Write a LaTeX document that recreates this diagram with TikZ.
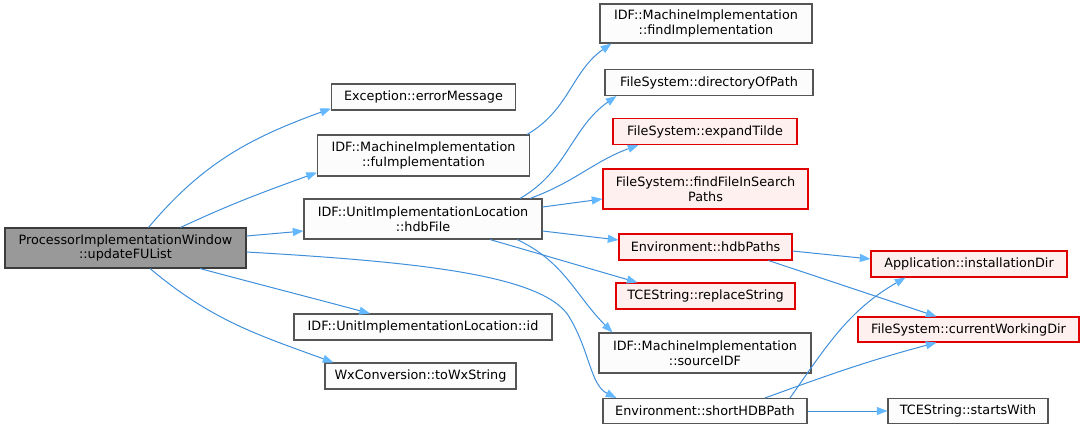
\documentclass[tikz,border=0pt]{standalone}
\usepackage{fontspec}
\setmainfont{DejaVu Sans}
\usetikzlibrary{arrows.meta,calc}
\definecolor{dxgrey}{HTML}{555555}
\definecolor{dxroot}{HTML}{999999}
\definecolor{dxpink}{HTML}{FFF0F0}
\definecolor{dxred}{HTML}{E00000}
\definecolor{dxplain}{HTML}{FBFCFB}
\definecolor{dxedge}{HTML}{3F8FDB}
\definecolor{dxtip}{HTML}{63B8FF}
\tikzset{
  wh/.style 2 args={minimum width=#1*0.75pt,minimum height=#2*0.75pt},
  fn/.style={draw=dxgrey,fill=dxplain,line width=0.8pt,inner sep=0pt,align=center,font=\fontsize{9.6}{11}\selectfont},
  fnext/.style={fn,draw=dxred,fill=dxpink},
  fnroot/.style={fn,draw=dxgrey!70!black,fill=dxroot},
  call/.style={-{Triangle[length=8pt,width=6pt,fill=dxtip,color=dxtip]},draw=dxedge,line width=0.75pt},
}
\begin{document}
\begin{tikzpicture}[x=0.75pt,y=-0.75pt]
  \useasboundingbox (0,0) rectangle (1084,429);
  % caller
  \node[fnroot,wh={241}{40}] (main) at (125.5,248) {ProcessorImplementationWindow\\::updateFUList};
  % first level
  \node[fn,wh={184}{26}] (err) at (423.5,97) {Exception::errorMessage};
  \node[fn,wh={212}{41}] (fuimpl) at (423.5,155.5) {IDF::MachineImplementation\\::fuImplementation};
  \node[fn,wh={238}{40}] (hdbfile) at (423,219) {IDF::UnitImplementationLocation\\::hdbFile};
  \node[fn,wh={258}{26}] (uid) at (423,327) {IDF::UnitImplementationLocation::id};
  \node[fn,wh={191}{26}] (towx) at (420.5,376) {WxConversion::toWxString};
  % second level
  \node[fn,wh={212}{39}] (findimpl) at (706,23.5) {IDF::MachineImplementation\\::findImplementation};
  \node[fn,wh={208}{26}] (dirpath) at (709,82.5) {FileSystem::directoryOfPath};
  \node[fnext,wh={184}{26}] (tilde) at (705,131.5) {FileSystem::expandTilde};
  \node[fnext,wh={205}{40}] (findfile) at (705.5,189) {FileSystem::findFileInSearch\\Paths};
  \node[fnext,wh={173}{26}] (hdbpaths) at (705.5,247) {Environment::hdbPaths};
  \node[fnext,wh={179}{26}] (replace) at (705.5,296) {TCEString::replaceString};
  \node[fn,wh={212}{40}] (srcidf) at (705,353) {IDF::MachineImplementation\\::sourceIDF};
  \node[fn,wh={204}{25}] (shorthdb) at (705,411) {Environment::shortHDBPath};
  % third level
  \node[fnext,wh={196}{26}] (instdir) at (969,264) {Application::installationDir};
  \node[fnext,wh={221}{25}] (cwd) at (968.5,329.5) {FileSystem::currentWorkingDir};
  \node[fn,wh={160}{25}] (startswith) at (968,411) {TCEString::startsWith};
  % calls from updateFUList
  \draw[call] ($(main.north)+(23,0)$) to[out=50,in=200] ($(err.south west)+(0,-2)$);
  \draw[call] ($(main.north)+(55,0)$) to[out=25,in=200] ($(fuimpl.south west)+(0,-4)$);
  \draw[call] ($(main.east)+(0,-12)$) -- ($(hdbfile.west)+(0,12)$);
  \draw[call] ($(main.south)+(74.5,0)$) to[out=-15,in=165] ($(uid.north)+(-53,0)$);
  \draw[call] ($(main.south)+(24.5,0)$) to[out=-40,in=160] ($(towx.north west)+(9,0)$);
  \draw[call] ($(main.east)+(0,4)$) .. controls (420,262) and (540,275) .. (568,315)
    .. controls (590,350) and (590,385) .. ($(shorthdb.north west)+(14,0)$);
  % calls from fuImplementation and hdbFile
  \draw[call] ($(fuimpl.north east)+(-3,0)$) to[out=30,in=215] ($(findimpl.south west)+(12,0)$);
  \draw[call] ($(hdbfile.north)+(97,0)$) to[out=30,in=215] ($(dirpath.south west)+(12,0)$);
  \draw[call] ($(hdbfile.north)+(107,0)$) to[out=20,in=200] ($(tilde.south west)+(26,0)$);
  \draw[call] ($(hdbfile.east)+(0,-12)$) -- ($(findfile.west)+(0,10)$);
  \draw[call] ($(hdbfile.east)+(0,12)$) -- ($(hdbpaths.west)+(0,-7)$);
  \draw[call] ($(hdbfile.south)+(67,0)$) -- ($(replace.north west)+(22,0)$);
  \draw[call] ($(hdbfile.south)+(94,0)$) to[out=-25,in=135] ($(srcidf.north west)+(14,0)$);
  % calls from hdbPaths and shortHDBPath
  \draw[call] ($(hdbpaths.east)+(0,4)$) -- ($(instdir.west)+(0,-5)$);
  \draw[call] ($(hdbpaths.south)+(63,0)$) -- ($(cwd.north)+(-32,0)$);
  \draw[call] ($(shorthdb.north)+(85,0)$) to[out=55,in=210] ($(instdir.south)+(-63.5,0)$);
  \draw[call] ($(shorthdb.north)+(60,0)$) to[out=20,in=195] ($(cwd.south)+(-32,0)$);
  \draw[call] (shorthdb.east) -- (startswith.west);
\end{tikzpicture}
\end{document}
